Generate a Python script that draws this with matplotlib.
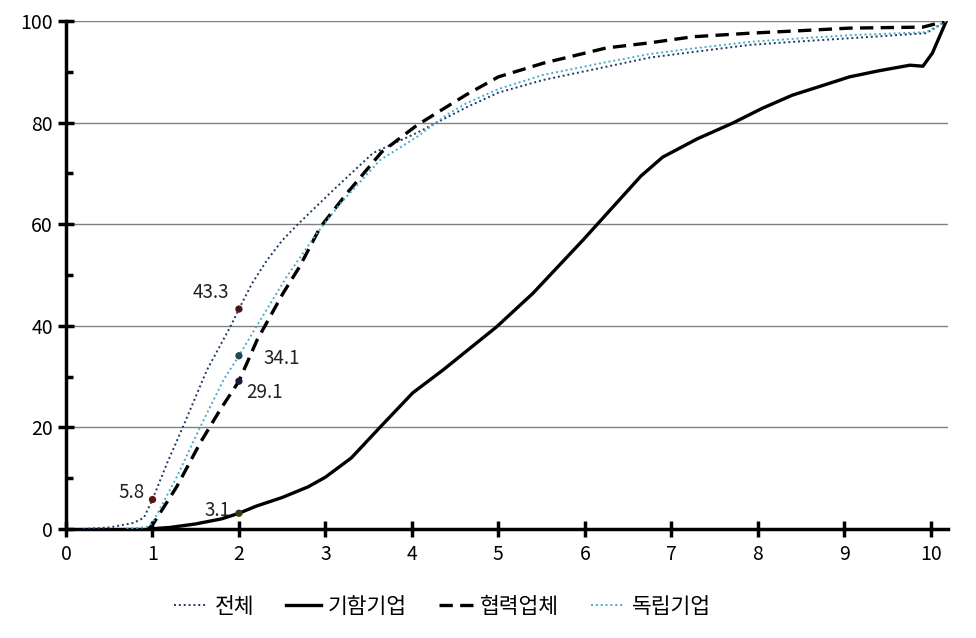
import matplotlib
matplotlib.use('Agg')
import matplotlib.pyplot as plt

plt.rcParams['font.family'] = ['Noto Sans CJK KR', 'DejaVu Sans']

# 전체
total_x = [0.2, 0.5, 0.78, 0.9, 1.0, 1.17, 1.35, 1.63, 1.9, 2.0, 2.15, 2.32, 2.5, 2.67,
           3.09, 3.55, 4.06, 4.63, 5.0, 5.52, 6.25, 6.75, 7.25, 7.91, 8.5, 9.06, 9.95, 10.18]
total_y = [0, 0.3, 1.2, 2.2, 5.8, 13, 20, 31.3, 39.8, 43.3, 48.3, 52.8, 56.8, 59.8,
           66.7, 74, 78, 83.0, 85.9, 88.4, 91, 92.8, 93.9, 95.3, 96.0, 96.6, 97.6, 100]

# 기함기업
flag_x = [0.95, 1.2, 1.5, 1.8, 2.0, 2.2, 2.5, 2.8, 3.0, 3.3, 3.63, 4.01, 4.36, 4.98,
          5.4, 5.98, 6.4, 6.65, 6.9, 7.3, 7.71, 8.05, 8.4, 8.75, 9.06, 9.4, 9.76,
          9.91, 10.02, 10.18]
flag_y = [0, 0.3, 1.0, 2.0, 3.1, 4.5, 6.2, 8.3, 10.2, 14.0, 20, 26.8, 31.3, 39.8,
          46.4, 56.9, 64.8, 69.5, 73.2, 76.8, 79.9, 82.8, 85.4, 87.3, 89, 90.2, 91.3,
          91.1, 93.7, 100]

# 협력업체
part_x = [0.95, 1.0, 1.28, 1.55, 1.78, 2.0, 2.21, 2.51, 2.7, 2.94, 3.25, 3.65, 4.06,
          4.63, 5.0, 5.52, 6.25, 6.75, 7.25, 7.91, 8.5, 9.06, 9.91, 10.18]
part_y = [0, 0.8, 8.3, 16.9, 23.4, 29.1, 37.2, 46.4, 51.6, 59.4, 66.1, 74.2, 79.5,
          85.5, 89.0, 91.7, 94.7, 95.7, 96.9, 97.6, 98.1, 98.6, 98.8, 100]

# 독립기업
ind_x = [0.7, 0.93, 1.0, 1.28, 1.55, 1.82, 2.0, 2.2, 2.55, 2.9, 3.17, 3.63, 4.06,
         4.4, 4.63, 5.0, 5.52, 6.25, 6.75, 7.25, 7.91, 8.5, 9.06, 9.95, 10.18]
ind_y = [0, 0.4, 1.2, 10.2, 20, 29.3, 34.1, 39.8, 49.6, 58.2, 64, 72.6, 77.2,
         81.5, 83.8, 86.6, 89.4, 91.9, 93.5, 94.6, 95.9, 96.6, 97.2, 97.8, 100]

# labelled points
pt_x = [1, 2, 2, 2, 2]
pt_y = [5.8, 43.3, 34.1, 29.1, 3.1]
pt_lbl = ['5.8', '43.3', '34.1', '29.1', '3.1']
pt_col = ['#5a1616', '#4a1414', '#1d4a55', '#1a1a3a', '#3a3a12']
pt_off = [(-21, 7), (-28, 17), (43, -3), (26, -11), (-21, 3)]

navy = '#1f3864'
lblue = '#4bacc6'

fig = plt.figure(figsize=(9.76, 6.38), dpi=100)
ax = fig.add_axes([66 / 976, 1 - 529 / 638, (948 - 66) / 976, (529 - 21) / 638])

ax.plot(total_x, total_y, color=navy, lw=1.4, ls=(0, (1, 1.5)), label='전체', zorder=3)
ax.plot(flag_x, flag_y, color='black', lw=2.4, label='기함기업', zorder=3)
ax.plot(part_x, part_y, color='black', lw=2.4, ls=(0, (4, 2.2)), label='협력업체', zorder=3)
ax.plot(ind_x, ind_y, color=lblue, lw=1.4, ls=(0, (1, 1.5)), label='독립기업', zorder=3)

ax.scatter(pt_x, pt_y, s=18, c=pt_col, zorder=4)
for x, y, t, off in zip(pt_x, pt_y, pt_lbl, pt_off):
    ax.annotate(t, (x, y), xytext=off, textcoords='offset pixels',
                ha='center', va='center', fontsize=13.5, color='#222222')

ax.set_xlim(0, 10.2)
ax.set_ylim(0, 100)
ax.set_xticks(range(0, 11))
ax.set_yticks(range(0, 101, 20))
ax.set_yticks(range(10, 100, 20), minor=True)
ax.yaxis.grid(True, color='#808080', lw=1)
ax.set_axisbelow(True)

for s in ['top', 'right']:
    ax.spines[s].set_visible(False)
for s in ['left', 'bottom']:
    ax.spines[s].set_linewidth(2.5)

ax.tick_params(axis='both', which='major', direction='inout', length=11, width=2.5,
               labelsize=14)
ax.tick_params(axis='x', pad=5)
ax.tick_params(axis='y', pad=4)
ax.tick_params(axis='y', which='minor', direction='in', length=5, width=2.5)

fig.legend(loc='center', bbox_to_anchor=(0.453, 0.049), ncol=4, frameon=False,
           fontsize=15.5, handlelength=1.6, columnspacing=1.5, handletextpad=0.3)

fig.savefig('out.png', dpi=100)
